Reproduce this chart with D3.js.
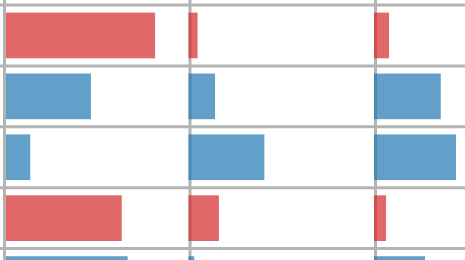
<!DOCTYPE html>
<html>
<head>
<meta charset="utf-8">
<script src="https://cdn.jsdelivr.net/npm/d3@7"></script>
<style>
    html, body { margin: 0; padding: 0; background: #fff; }
    svg { display: block; }
</style>
</head>
<body>
<svg id="chart"></svg>
<script>
// rows from top to bottom, the last one is cut by the frame
const rows = ['r1', 'r2', 'r3', 'r4', 'r5'];
const rowGroup = ['a', 'b', 'b', 'a', 'b'];
const facets = ['f1', 'f2', 'f3'];

// values per facet, in percent of the facet width
const facet1 = [82, 47.4, 14.7, 64, 67.2];
const facet2 = [4.9, 14.3, 40.9, 16.4, 3.1];
const facet3 = [8.1, 36, 44.2, 6.5, 27.5];

const groupColors = { a: '#d62728', b: '#1f77b4' };

const width = 465;
const height = 260;
const gridColor = '#b3b3b3';
const gridWidth = 3;

const svg = d3.select('#chart')
    .attr('width', width)
    .attr('height', height);

const y = d3.scaleBand()
    .domain(rows)
    .range([5, 5 + rows.length * 60.9])
    .paddingInner(0.25)
    .paddingOuter(0.125);

const fx = d3.scaleBand()
    .domain(facets)
    .range([4.5, 4.5 + facets.length * 185.5]);

const x = d3.scaleLinear()
    .domain([0, 100])
    .range([0, fx.step()]);

const color = d3.scaleOrdinal()
    .domain(Object.keys(groupColors))
    .range(Object.values(groupColors));

const data = [];
[facet1, facet2, facet3].forEach((vals, i) => {
    vals.forEach((v, j) => {
        data.push({ facet: facets[i], row: rows[j], group: rowGroup[j], value: v });
    });
});

// horizontal grid lines at band boundaries
const rowLines = d3.range(rows.length).map(i => y.range()[0] + i * y.step());
svg.append('g')
    .selectAll('line')
    .data(rowLines)
    .enter()
    .append('line')
    .attr('x1', 0)
    .attr('x2', width)
    .attr('y1', d => d)
    .attr('y2', d => d)
    .attr('stroke', gridColor)
    .attr('stroke-width', gridWidth);

// facet baselines
svg.append('g')
    .selectAll('line')
    .data(facets.slice(1))
    .enter()
    .append('line')
    .attr('x1', d => fx(d))
    .attr('x2', d => fx(d))
    .attr('y1', 0)
    .attr('y2', height)
    .attr('stroke', gridColor)
    .attr('stroke-width', gridWidth);

svg.append('g')
    .selectAll('rect')
    .data(data)
    .enter()
    .append('rect')
    .attr('x', d => fx(d.facet) - gridWidth / 2)
    .attr('y', d => y(d.row))
    .attr('width', d => x(d.value))
    .attr('height', y.bandwidth())
    .attr('fill', d => color(d.group))
    .attr('fill-opacity', 0.7);

// left panel border sits on top of the bars
svg.append('line')
    .attr('x1', fx(facets[0]))
    .attr('x2', fx(facets[0]))
    .attr('y1', 0)
    .attr('y2', height)
    .attr('stroke', gridColor)
    .attr('stroke-width', gridWidth);
</script>
</body>
</html>
